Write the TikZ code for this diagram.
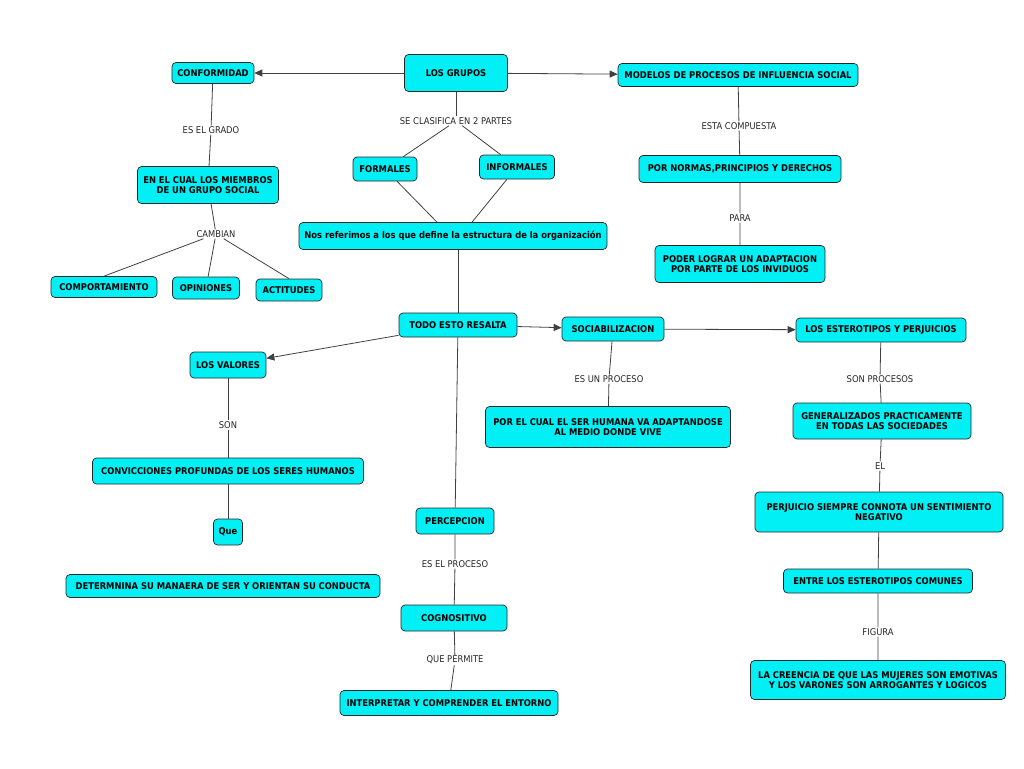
\documentclass[tikz,border=0pt]{standalone}
\usepackage{fontspec}
\setmainfont{DejaVu Sans Condensed}
\usetikzlibrary{arrows.meta}
\definecolor{aqua}{RGB}{0,240,245}
\begin{document}
\begin{tikzpicture}[x=1pt,y=-1pt,
 box/.style={draw=black!85,line width=0.7pt,fill=aqua,rounded corners=4pt,font=\bfseries\fontsize{9.3}{10.5}\selectfont,align=center,inner sep=1pt},
 lab/.style={font=\fontsize{9.3}{10.5}\selectfont,text=black!85,inner sep=1pt},
 ln/.style={draw=black!75,line width=0.8pt},
 ar/.style={ln,-{Triangle[length=8pt,width=7pt]}}]
\useasboundingbox (0,0) rectangle (1024,768);
\newcommand\bx[5]{\node[box,minimum width=#3,minimum height=#4] (#1) at #2 {#5};}
\bx{grupos}{(456,73)}{103}{37}{LOS GRUPOS}
\bx{conf}{(213,73)}{82}{21}{CONFORMIDAD}
\bx{modelos}{(738,75)}{240}{23}{MODELOS DE PROCESOS DE INFLUENCIA SOCIAL}
\bx{encual}{(208,185)}{141}{37}{EN EL CUAL LOS MIEMBROS\\DE UN GRUPO SOCIAL}
\bx{comp}{(104,287)}{106}{21}{COMPORTAMIENTO}
\bx{opin}{(206,288)}{67}{22}{OPINIONES}
\bx{acti}{(289,290)}{66}{22}{ACTITUDES}
\bx{form}{(385,169)}{64}{24}{FORMALES}
\bx{inform}{(517,167)}{75}{24}{INFORMALES}
\bx{nos}{(453,236)}{308}{27}{Nos referimos a los que define la estructura de la organización}
\bx{normas}{(740,169)}{202}{27}{POR NORMAS,PRINCIPIOS Y DERECHOS}
\bx{poder}{(740,264)}{170}{37}{PODER LOGRAR UN ADAPTACION\\POR PARTE DE LOS INVIDUOS}
\bx{todo}{(458,325)}{118}{24}{TODO ESTO RESALTA}
\bx{soc}{(613,329)}{102}{24}{SOCIABILIZACION}
\bx{est}{(881,330)}{170}{24}{LOS ESTEROTIPOS Y PERJUICIOS}
\bx{val}{(228,365)}{76}{26}{LOS VALORES}
\bx{conv}{(228,471)}{271}{26}{CONVICCIONES PROFUNDAS DE LOS SERES HUMANOS}
\bx{que}{(228,532)}{29}{26}{Que}
\bx{det}{(223,586)}{314}{23}{DETERMNINA SU MANAERA DE SER Y ORIENTAN SU CONDUCTA}
\bx{porel}{(608,427)}{245}{41}{POR EL CUAL EL SER HUMANA VA ADAPTANDOSE\\AL MEDIO DONDE VIVE}
\bx{gen}{(882,421)}{178}{36}{GENERALIZADOS PRACTICAMENTE\\EN TODAS LAS SOCIEDADES}
\bx{perj}{(879,512)}{248}{40}{PERJUICIO SIEMPRE CONNOTA UN SENTIMIENTO\\NEGATIVO}
\bx{entre}{(878,581)}{189}{24}{ENTRE LOS ESTEROTIPOS COMUNES}
\bx{creen}{(878,680)}{255}{39}{LA CREENCIA DE QUE LAS MUJERES SON EMOTIVAS\\Y LOS VARONES SON ARROGANTES Y LOGICOS}
\bx{perc}{(455,521)}{78}{26}{PERCEPCION}
\bx{cogn}{(454,618)}{106}{26}{COGNOSITIVO}
\bx{interp}{(449,703)}{218}{25}{INTERPRETAR Y COMPRENDER EL ENTORNO}
\node[lab] (l1) at (211,130) {ES EL GRADO};
\node[lab] (l2) at (216,234) {CAMBIAN};
\node[lab] (l3) at (456,121) {SE CLASIFICA EN 2 PARTES};
\node[lab] (l4) at (739,126) {ESTA COMPUESTA};
\node[lab] (l5) at (740,218) {PARA};
\node[lab] (l6) at (228,425) {SON};
\node[lab] (l7) at (609,379) {ES UN PROCESO};
\node[lab] (l8) at (880,379) {SON PROCESOS};
\node[lab] (l9) at (880,466) {EL};
\node[lab] (l10) at (878,632) {FIGURA};
\node[lab] (l11) at (455,564) {ES EL PROCESO};
\node[lab] (l12) at (455,660) {QUE PERMITE};
\draw[ar] (grupos) -- (conf);
\draw[ar] (grupos) -- (modelos);
\draw[ln] (conf) -- (l1) -- (encual);
\draw[ln] (encual) -- (l2);
\draw[ln] (l2) -- (comp.north); \draw[ln] (l2) -- (opin); \draw[ln] (l2) -- (acti.north);
\draw[ln] (grupos) -- (l3); \draw[ln] (l3) -- (form); \draw[ln] (l3) -- (inform);
\draw[ln] (form) -- (nos.north -| 437,0); \draw[ln] (inform) -- (nos.north -| 472,0);
\draw[ln] (modelos) -- (l4) -- (normas) -- (l5) -- (poder);
\draw[ln] (nos.south -| todo) -- (todo);
\draw[ar] (todo) -- (val);
\draw[ar] (todo) -- (soc);
\draw[ar] (soc) -- (est);
\draw[ln] (todo) -- (perc);
\draw[ln] (val) -- (l6) -- (conv) -- (que);
\draw[ln] (soc) -- (l7) -- (porel);
\draw[ln] (est) -- (l8) -- (gen) -- (l9) -- (perj) -- (entre) -- (l10) -- (creen);
\draw[ln] (perc) -- (l11) -- (cogn) -- (l12) -- (interp);
\end{tikzpicture}
\end{document}
